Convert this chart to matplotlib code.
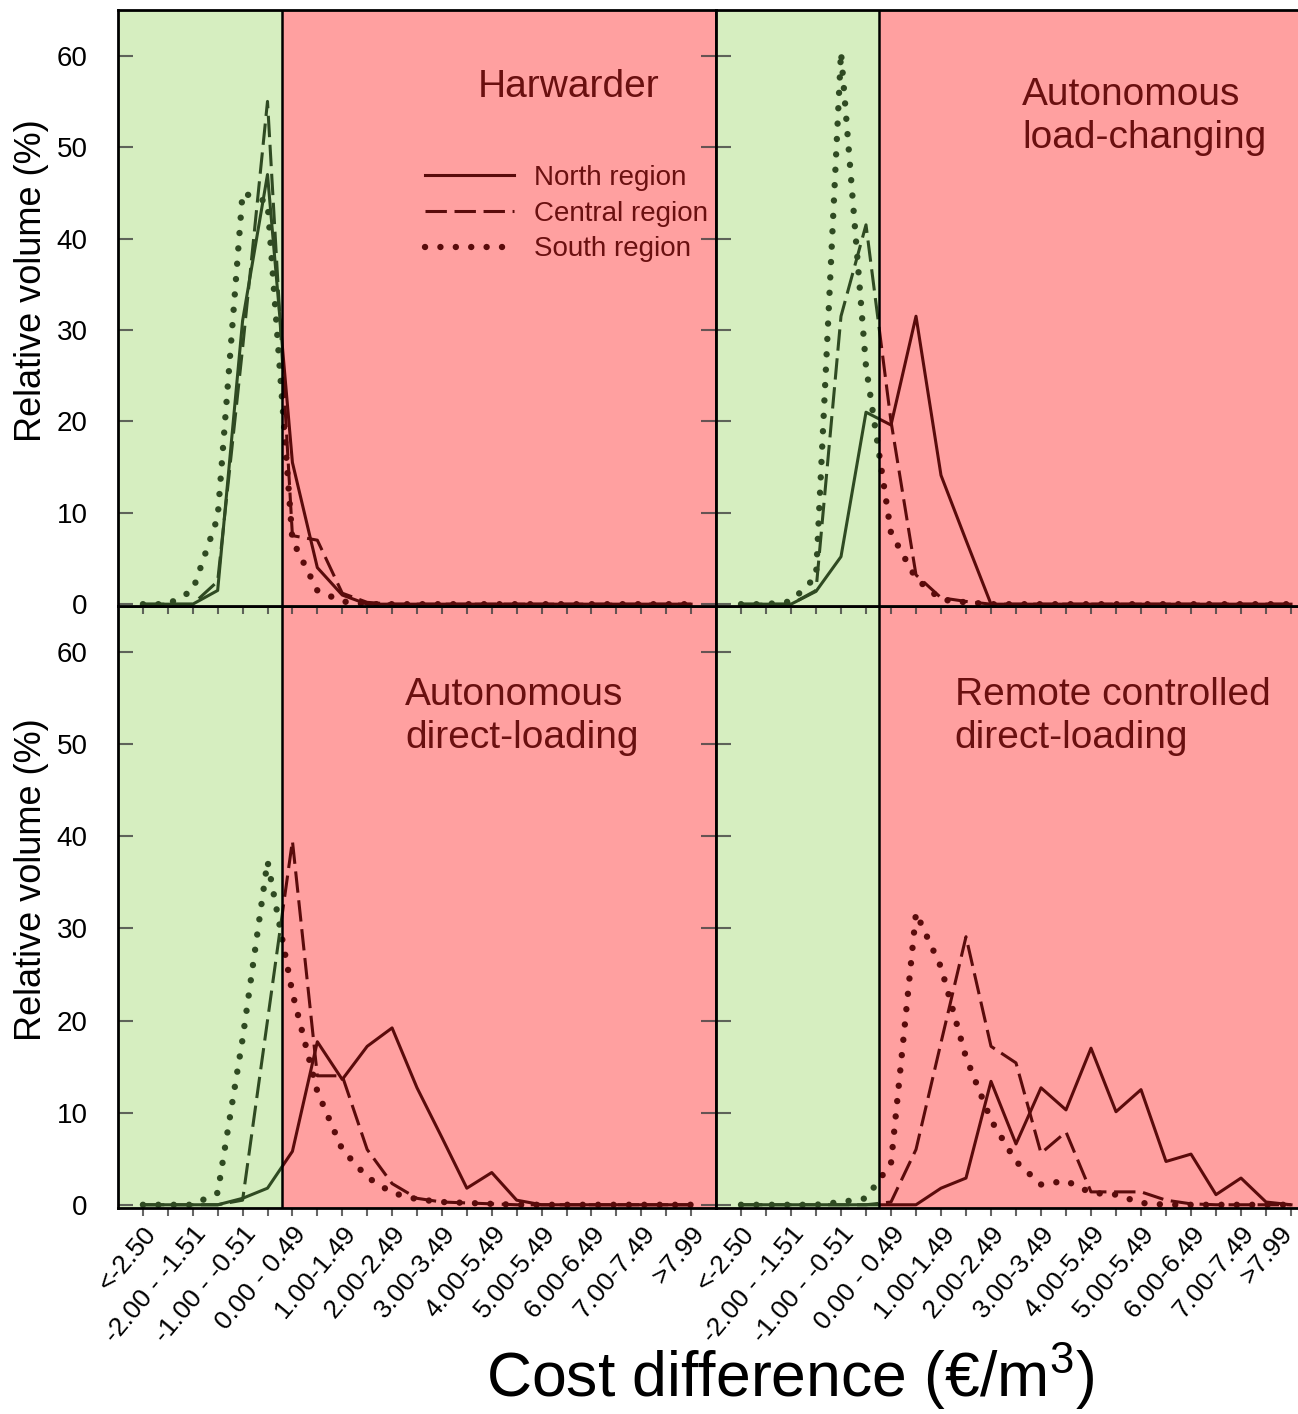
import numpy as np
import matplotlib.pyplot as plt
import matplotlib.transforms as mtransforms
from matplotlib.lines import Line2D

plt.rcParams['font.family'] = ['Liberation Sans', 'DejaVu Sans']
plt.rcParams['mathtext.fontset'] = 'custom'
plt.rcParams['mathtext.rm'] = 'Liberation Sans'

# cost difference classes (0.5 EUR/m3 wide), only every second one is labelled
n_classes = 23
shown_labels = ['<-2.50', '-2.00 - -1.51', '-1.00 - -0.51', '0.00 - 0.49', '1.00-1.49',
                '2.00-2.49', '3.00-3.49', '4.00-5.49', '5.00-5.49', '6.00-6.49',
                '7.00-7.49', '>7.99']

# Harwarder
north_harw = [0, 0, 0, 1.5, 31, 47, 15.5, 4, 1, 0, 0, 0, 0, 0, 0, 0, 0, 0, 0, 0, 0, 0, 0]
central_harw = [0, 0, 0, 2.5, 28, 55, 7.5, 7, 1.2, 0.2, 0, 0, 0, 0, 0, 0, 0, 0, 0, 0, 0, 0, 0]
south_harw = [0, 0, 1.5, 9.5, 45, 44, 7, 1.5, 0.3, 0, 0, 0, 0, 0, 0, 0, 0, 0, 0, 0, 0, 0, 0]

# Autonomous load-changing
north_load = [0, 0, 0, 1.4, 5.2, 21, 19.6, 31.5, 14.1, 7, 0, 0, 0, 0, 0, 0, 0, 0, 0, 0, 0, 0, 0]
central_load = [0, 0, 0, 1.5, 31.5, 41.5, 20, 3.2, 0.7, 0.3, 0, 0, 0, 0, 0, 0, 0, 0, 0, 0, 0, 0, 0]
south_load = [0, 0, 0.3, 3, 60.4, 26, 7.8, 2.8, 0.5, 0.2, 0, 0, 0, 0, 0, 0, 0, 0, 0, 0, 0, 0, 0]

# Autonomous direct-loading
north_dir = [0, 0, 0, 0, 0.7, 1.8, 5.8, 17.7, 13.6, 17.2, 19.2, 12.7, 7.3, 1.8, 3.5, 0.5,
             0, 0, 0, 0, 0, 0, 0]
central_dir = [0, 0, 0, 0, 0.5, 20, 39.5, 14, 14, 6, 2.3, 0.7, 0.3, 0.2, 0.1, 0,
               0, 0, 0, 0, 0, 0, 0]
south_dir = [0, 0, 0, 1.3, 18, 37.3, 23, 12.3, 6, 3, 1.3, 0.6, 0.3, 0.2, 0.1, 0,
             0, 0, 0, 0, 0, 0, 0]

# Remote controlled direct-loading
north_rem = [0, 0, 0, 0, 0, 0, 0, 0, 1.8, 2.9, 13.4, 6.6, 12.7, 10.3, 17, 10.1, 12.5,
             4.7, 5.5, 1.1, 2.9, 0.3, 0]
central_rem = [0, 0, 0, 0, 0, 0, 0.3, 6, 17.6, 29.1, 17.2, 15.4, 5.6, 7.9, 1.4, 1.4, 1.4,
               0.5, 0.1, 0, 0, 0, 0]
south_rem = [0, 0, 0, 0, 0.3, 0.7, 4.5, 31.7, 25.8, 16, 9.2, 4.7, 2.2, 2.6, 1.3, 1.1, 0.2,
             0, 0, 0, 0, 0, 0]

region_names = ['North region', 'Central region', 'South region']

green_bg = '#d6eec0'
red_bg = '#ffa0a0'
green_line = '#2f4a22'
red_line = '#5a0b0b'
text_col = '#6a1010'
tick_col = (0.25, 0.25, 0.25, 0.8)

styles = [dict(ls='-', lw=2.2),
          dict(ls=(0, (7, 2.5)), lw=2.2),
          dict(ls=(0, (0.01, 2.4)), lw=4.6, dash_capstyle='round')]

W, H = 1298, 1414
fig = plt.figure(figsize=(W / 100, H / 100), dpi=100)


def add_panel(x0, y0, x1, y1):
    return fig.add_axes([x0 / W, 1 - y1 / H, (x1 - x0) / W, (y1 - y0) / H])


def draw_panel(ax, series, title, tx, ty, ylow, split, left=True, bottom=True):
    x = np.arange(n_classes)
    g = ax.axvspan(-1, split, color=green_bg, lw=0, zorder=0)
    r = ax.axvspan(split, n_classes, color=red_bg, lw=0, zorder=0)
    for vals, st in zip(series, styles):
        for span, col in ((g, green_line), (r, red_line)):
            ln, = ax.plot(x, vals, color=col, zorder=2, **st)
            ln.set_clip_path(span)
    ax.axvline(split, color='black', lw=1.8, zorder=4)
    ax.set_xlim(-1, n_classes)
    ax.set_ylim(ylow, 65)

    ax.set_yticks(range(0, 61, 10))
    ax.tick_params(axis='y', direction='in', length=11, width=1.5, color=tick_col,
                   left=True, right=left, labelleft=left, labelsize=20, pad=22)
    ax.set_xticks(x)
    labels = ['' for _ in x]
    for i, lab in zip(range(0, n_classes, 2), shown_labels):
        labels[i] = lab
    ax.set_xticklabels(labels if bottom else [])
    ax.tick_params(axis='x', direction='out', length=6, width=1.5, color=tick_col,
                   labelsize=19, pad=4)
    if bottom:
        for t in ax.get_xticklabels():
            t.set_rotation(50)
            t.set_ha('right')
            t.set_va('top')
            t.set_rotation_mode('anchor')
        if not left:
            # last label would run past the right edge of the picture
            last = ax.get_xticklabels()[-1]
            last.set_transform(last.get_transform() +
                               mtransforms.ScaledTranslation(-12 / 100, 0, fig.dpi_scale_trans))
    for s in ax.spines.values():
        s.set_linewidth(2)
        s.set_color('black')
        s.set_zorder(5)
    ax.text(tx, ty, title, transform=ax.transAxes, fontsize=28, color=text_col,
            ha='left', va='baseline', linespacing=1.25, zorder=6)


ax_bl = add_panel(118, 606, 716, 1208)
ax_br = add_panel(716, 606, 1316, 1208)
ax_tl = add_panel(118, 10, 716, 606)
ax_tr = add_panel(716, 10, 1316, 606)

draw_panel(ax_tl, [north_harw, central_harw, south_harw], 'Harwarder',
           0.602, 0.854, -0.2, 5.6, left=True, bottom=False)
draw_panel(ax_tr, [north_load, central_load, south_load], 'Autonomous\nload-changing',
           0.51, 0.768, -0.2, 5.5, left=False, bottom=False)
draw_panel(ax_bl, [north_dir, central_dir, south_dir], 'Autonomous\ndirect-loading',
           0.48, 0.764, -0.35, 5.6, left=True, bottom=True)
draw_panel(ax_br, [north_rem, central_rem, south_rem], 'Remote controlled\ndirect-loading',
           0.398, 0.764, -0.35, 5.5, left=False, bottom=True)

handles = [Line2D([], [], color=red_line, **st) for st in styles]
ax_tl.legend(handles, region_names, loc='upper left', bbox_to_anchor=(0.513, 0.74),
             frameon=False, fontsize=20, labelcolor=text_col, handlelength=3.2,
             handletextpad=0.75, labelspacing=0.35, borderpad=0, borderaxespad=0)

fig.text(32 / W, 1 - 281 / H, 'Relative volume (%)', rotation=90, ha='center',
         va='center', fontsize=26)
fig.text(32 / W, 1 - 880 / H, 'Relative volume (%)', rotation=90, ha='center',
         va='center', fontsize=26)
fig.text(790 / W, 1 - 1376 / H, 'Cost difference (€/m$^3$)', ha='center', va='center',
         fontsize=45)

fig.savefig('out.png', dpi=100)
